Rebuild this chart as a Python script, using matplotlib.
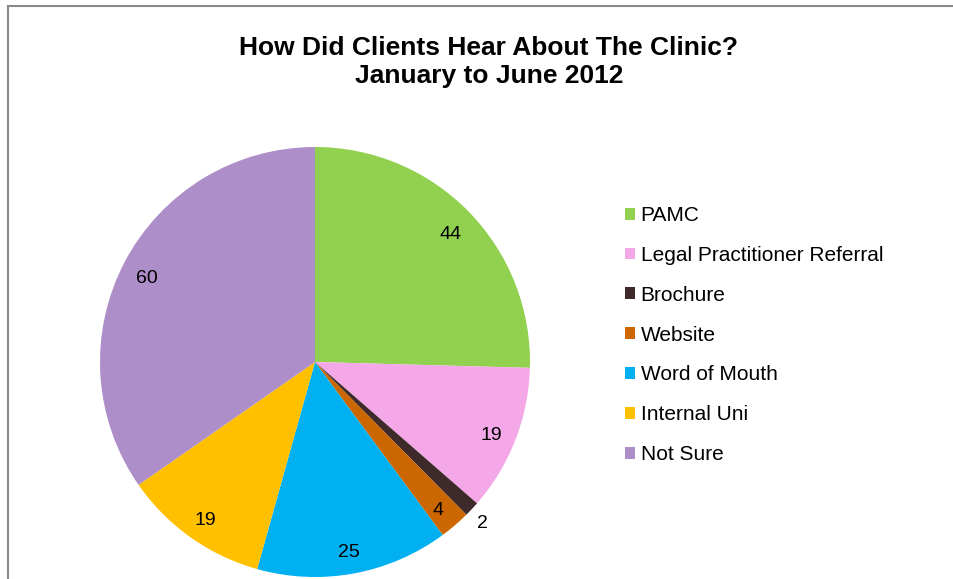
import matplotlib.pyplot as plt
from matplotlib.patches import Patch, Rectangle
import numpy as np

plt.rcParams['font.family'] = ['Liberation Sans', 'DejaVu Sans']

sources = ['PAMC', 'Legal Practitioner Referral', 'Brochure', 'Website',
           'Word of Mouth', 'Internal Uni', 'Not Sure']
counts = [44, 19, 2, 4, 25, 19, 60]
colours = ['#92D050', '#F4A8E8', '#3F2A2B', '#CC6600',
           '#00B0F0', '#FFC000', '#AD8EC8']

fig = plt.figure(figsize=(9.54, 5.79), dpi=100)

# chart frame (only left and top edges show in the crop)
fig.patches.append(Rectangle((8 / 954, -0.5), 1.5, 1.5 - 6 / 579,
                             transform=fig.transFigure, fill=False,
                             edgecolor='#888888', linewidth=1.5))

ax = fig.add_axes([100 / 954, 2 / 579, 430 / 954, 430 / 579])
wedges, _ = ax.pie(counts, colors=colours, startangle=90, counterclock=False,
                   wedgeprops=dict(linewidth=0))
ax.set_xlim(-1, 1)
ax.set_ylim(-1, 1)

# value labels (excel puts them a touch below the wedge centroid)
for w, v in zip(wedges, counts):
    mid = np.deg2rad((w.theta1 + w.theta2) / 2)
    r = 1.07 if v < 3 else 0.88
    ax.text(r * np.cos(mid), r * np.sin(mid) - 0.02, str(v), ha='center',
            va='center', fontsize=14, color='black')

fig.text(489 / 954, 1 - 62 / 579,
         'How Did Clients Hear About The Clinic?\nJanuary to June 2012',
         ha='center', va='center', fontsize=19, fontweight='bold',
         linespacing=1.25)

handles = [Patch(facecolor=c, edgecolor='none') for c in colours]
fig.legend(handles, sources, loc='upper left',
           bbox_to_anchor=(625 / 954, 1 - 206 / 579), frameon=False,
           fontsize=15, handlelength=0.5, handleheight=0.5,
           handletextpad=0.25, labelspacing=1.0, borderpad=0, borderaxespad=0)

fig.savefig('out.png', dpi=100)
